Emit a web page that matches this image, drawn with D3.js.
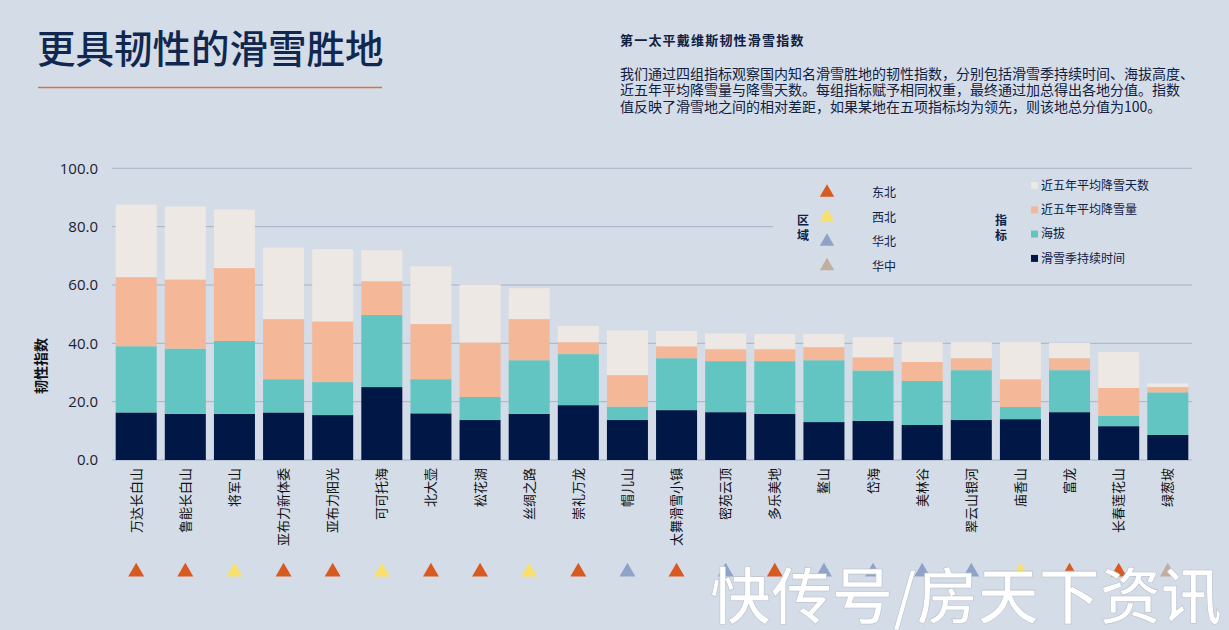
<!DOCTYPE html>
<html><head><meta charset="utf-8">
<script src="https://cdn.jsdelivr.net/npm/d3@7"></script>
<style>
html,body{margin:0;padding:0;background:#d4dce8;}
svg{display:block;font-family:"Noto Sans CJK SC","Noto Sans",sans-serif;}
</style></head>
<body>
<svg id="chart" width="1229" height="630"></svg>
<script>
// ---- data ----
const categories = ["万达长白山","鲁能长白山","将军山","亚布力新体委","亚布力阳光","可可托海","北大壶","松花湖","丝绸之路","崇礼万龙","帽儿山","太舞滑雪小镇","密苑云顶","多乐美地","鳌山","岱海","美林谷","翠云山银河","庙香山","富龙","长春莲花山","绿葱坡"];
const regions = ["东北","东北","西北","东北","东北","西北","东北","东北","西北","东北","华北","东北","华北","东北","华北","华北","华北","华北","西北","东北","东北","华中"];
const seasonLength = [16.3,15.8,15.8,16.3,15.4,25.0,16.0,13.7,15.8,18.8,13.7,17.1,16.4,15.8,13.0,13.4,12.0,13.7,14.0,16.4,11.6,8.6];
const altitude     = [22.7,22.4,25.0,11.4,11.3,24.7,11.7,7.9,18.4,17.5,4.6,17.8,17.5,18.1,21.2,17.3,15.1,17.1,4.2,14.4,3.5,14.6];
const snowfall     = [23.7,23.7,25.0,20.6,20.8,11.6,18.9,18.7,14.1,4.1,10.8,4.1,4.1,4.1,4.5,4.5,6.5,4.1,9.5,4.1,9.6,1.8];
const snowDays     = [24.9,25.0,20.0,24.5,24.8,10.6,19.8,19.9,10.6,5.5,15.3,5.2,5.4,5.2,4.5,6.9,6.8,5.5,12.7,5.2,12.3,1.3];
const seriesNames = ["滑雪季持续时间","海拔","近五年平均降雪量","近五年平均降雪天数"];
const regionNames = ["东北","西北","华北","华中"];
const yTicks = [0,20,40,60,80,100];

// ---- styles ----
const seriesColors = ["#011847","#63c5c2","#f4b899","#ede8e3"];
const regionColors = {"东北":"#d95a1f","西北":"#f9e06a","华北":"#8fa3c8","华中":"#c1ae9f"};
const ink = "#0d2147";
const bg = "#d4dce8";
const gridColor = "#a8b2c6";

const svg = d3.select("#chart");
svg.append("rect").attr("width",1229).attr("height",630).attr("fill",bg);

const x = d3.scaleBand().domain(categories).range([112,1192]).paddingInner(0.165).paddingOuter(0.075);
const y = d3.scaleLinear().domain([0,100]).range([460,168.3]);

// gridlines
svg.append("g").selectAll("line").data(yTicks).join("line")
  .attr("x1",112).attr("x2",1192)
  .attr("y1",d=>y(d)).attr("y2",d=>y(d))
  .attr("stroke",gridColor).attr("stroke-width",1);

// legend backdrop covering gridline behind legend
svg.append("rect").attr("x",773).attr("y",174).attr("width",420).attr("height",104).attr("fill",bg);

// y tick labels
svg.append("g").selectAll("text").data(yTicks).join("text")
  .attr("x",98).attr("y",d=>y(d)).attr("dy","0.36em")
  .attr("text-anchor","end")
  .style("font-family","'Open Sans',sans-serif").style("font-size","15px")
  .attr("fill","#1b2233")
  .text(d=>d3.format(".1f")(d));

// y axis title
svg.append("text").attr("transform","translate(46,366) rotate(-90)")
  .attr("text-anchor","middle").style("font-size","14px").style("font-weight","bold")
  .attr("fill","#111").text("韧性指数");

// stacked bars
const rows = categories.map((c,i)=>({cat:c, s0:seasonLength[i], s1:altitude[i], s2:snowfall[i], s3:snowDays[i]}));
const stack = d3.stack().keys(["s0","s1","s2","s3"]);
const stacked = stack(rows);
svg.append("g").selectAll("g").data(stacked).join("g")
  .attr("fill",(d,i)=>seriesColors[i])
  .selectAll("rect").data(d=>d).join("rect")
  .attr("x",d=>x(d.data.cat)).attr("width",x.bandwidth())
  .attr("y",d=>y(d[1])).attr("height",d=>y(d[0])-y(d[1]));

// x labels
svg.append("g").selectAll("text").data(categories).join("text")
  .attr("transform",d=>`translate(${x(d)+x.bandwidth()/2+4.5},468) rotate(-90)`)
  .attr("text-anchor","end").style("font-size","13px").attr("fill","#111")
  .text(d=>d);

// region triangles
const tri = d3.symbol().type(d3.symbolTriangle).size(110);
svg.append("g").selectAll("path").data(categories).join("path")
  .attr("transform",d=>`translate(${x(d)+x.bandwidth()/2},572)`)
  .attr("d",tri).attr("fill",(d,i)=>regionColors[regions[i]]);

// title
svg.append("text").attr("x",37).attr("y",63).style("font-size","38.5px").style("font-weight","500")
  .attr("fill","#10284f").text("更具韧性的滑雪胜地");
svg.append("line").attr("x1",38).attr("x2",382).attr("y1",87.5).attr("y2",87.5)
  .attr("stroke","#e0703a").attr("stroke-width",1.5);

// description
svg.append("text").attr("x",620).attr("y",45).style("font-size","13px").style("font-weight","bold")
  .style("letter-spacing","1.2px").attr("fill","#10203f").text("第一太平戴维斯韧性滑雪指数");
const para = ["我们通过四组指标观察国内知名滑雪胜地的韧性指数，分别包括滑雪季持续时间、海拔高度、",
  "近五年平均降雪量与降雪天数。每组指标赋予相同权重，最终通过加总得出各地分值。指数",
  "值反映了滑雪地之间的相对差距，如果某地在五项指标均为领先，则该地总分值为100。"];
svg.append("g").selectAll("text").data(para).join("text")
  .attr("x",620).attr("y",(d,i)=>79+i*16.4).style("font-size","14px").attr("fill","#10203f")
  .text(d=>d);

// region legend
const rl = svg.append("g");
rl.append("text").attr("x",803).attr("y",225).attr("text-anchor","middle").style("font-size","12px").style("font-weight","bold").attr("fill",ink).text("区");
rl.append("text").attr("x",803).attr("y",240).attr("text-anchor","middle").style("font-size","12px").style("font-weight","bold").attr("fill",ink).text("域");
const triL = d3.symbol().type(d3.symbolTriangle).size(90);
regionNames.forEach((r,i)=>{
  const cy = 192.5 + i*24.5;
  rl.append("path").attr("transform",`translate(827,${cy})`).attr("d",triL).attr("fill",regionColors[r]);
  rl.append("text").attr("x",872).attr("y",cy+4.5).style("font-size","12px").attr("fill",ink).text(r);
});

// series legend
const sl = svg.append("g");
sl.append("text").attr("x",1001).attr("y",225).attr("text-anchor","middle").style("font-size","12px").style("font-weight","bold").attr("fill",ink).text("指");
sl.append("text").attr("x",1001).attr("y",240).attr("text-anchor","middle").style("font-size","12px").style("font-weight","bold").attr("fill",ink).text("标");
const legendOrder = [3,2,1,0];
legendOrder.forEach((k,i)=>{
  const cy = 185.5 + i*24.3;
  sl.append("rect").attr("x",1031).attr("y",cy-3.5).attr("width",7).attr("height",7).attr("fill",seriesColors[k]);
  sl.append("text").attr("x",1041).attr("y",cy+4.3).style("font-size","12px").attr("fill",ink).text(seriesNames[k]);
});

// watermark
svg.append("text").attr("x",710).attr("y",619).style("font-size","61px").style("font-weight","500")
  .attr("fill","#ffffff").attr("stroke","#b8bfc9").attr("stroke-width",0.6)
  .text("快传号/房天下资讯");
</script>
</body></html>
